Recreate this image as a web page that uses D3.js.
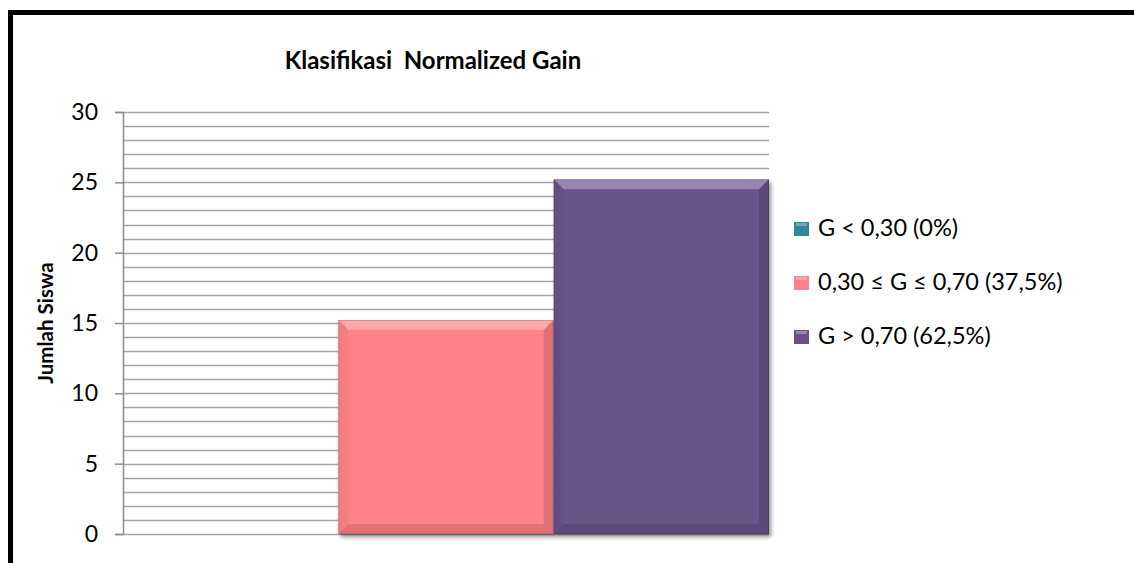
<!DOCTYPE html>
<html>
<head>
<meta charset="utf-8">
<script src="https://cdn.jsdelivr.net/npm/d3@7"></script>
<style>
  body { margin: 0; background: #fff; }
  svg { display: block; font-family: Lato, "Open Sans", sans-serif; }
</style>
</head>
<body>
<svg width="1134" height="563"></svg>
<script>
// data
var series = ["G < 0,30 (0%)", "0,30 \u2264 G \u2264 0,70 (37,5%)", "G > 0,70 (62,5%)"];
var values = [0, 15, 25];
var colors = ["#31859c", "#ff8289", "#6a5288"];
var yTicks = [0, 5, 10, 15, 20, 25, 30];

var svg = d3.select("svg");

// outer frame
svg.append("rect")
    .attr("x", 10.5).attr("y", 12.5)
    .attr("width", 1140).attr("height", 600)
    .attr("fill", "none")
    .attr("stroke", "#000")
    .attr("stroke-width", 5);

var plotLeft = 123, plotRight = 769, plotTop = 112, plotBottom = 534;

var y = d3.scaleLinear().domain([0, 30]).range([plotBottom, plotTop]);
var x = d3.scaleBand().domain(series).range([plotLeft, plotRight]).padding(0);

// grid lines (every unit)
svg.append("g")
  .selectAll("line")
  .data(d3.range(1, 31))
  .enter().append("line")
    .attr("x1", plotLeft).attr("x2", plotRight)
    .attr("y1", function(d) { return Math.round(y(d)) + 0.5; })
    .attr("y2", function(d) { return Math.round(y(d)) + 0.5; })
    .attr("stroke", "#a6a6a6")
    .attr("stroke-width", 1.5);

// x baseline
svg.append("line")
    .attr("x1", plotLeft).attr("x2", plotRight)
    .attr("y1", plotBottom + 0.5).attr("y2", plotBottom + 0.5)
    .attr("stroke", "#a6a6a6").attr("stroke-width", 1.5);

// y axis
var yAxis = svg.append("g")
    .attr("transform", "translate(" + plotLeft + ",0)")
    .call(d3.axisLeft(y).tickValues(yTicks).tickSize(8).tickPadding(17));
yAxis.select(".domain").attr("stroke", "#8c8c8c").attr("stroke-width", 1.5);
yAxis.selectAll(".tick line").attr("stroke", "#8c8c8c").attr("stroke-width", 1.5);
yAxis.selectAll(".tick text")
    .attr("font-size", 23)
    .attr("fill", "#000")
    .attr("font-family", "Lato, sans-serif");

// bars with bevel
var defs = svg.append("defs");
var f = defs.append("filter").attr("id", "shadow").attr("x", "-5%").attr("y", "-5%").attr("width", "115%").attr("height", "115%");
f.append("feGaussianBlur").attr("in", "SourceAlpha").attr("stdDeviation", 2);
f.append("feOffset").attr("dx", 2).attr("dy", 3).attr("result", "b");
f.append("feComponentTransfer").append("feFuncA").attr("type", "linear").attr("slope", 0.45);
var m = f.append("feMerge");
m.append("feMergeNode");
m.append("feMergeNode").attr("in", "SourceGraphic");

var bars = svg.append("g").selectAll("g")
  .data(series.map(function(s, i) { return { name: s, value: values[i], color: colors[i] }; }).filter(function(d) { return d.value > 0; }))
  .enter().append("g");

bars.append("rect")
    .attr("x", function(d) { return x(d.name); })
    .attr("y", function(d) { return y(d.value) - 3; })
    .attr("width", x.bandwidth())
    .attr("height", function(d) { return plotBottom - y(d.value) + 3; })
    .attr("fill", function(d) { return d.color; })
    .attr("filter", "url(#shadow)");

var bev = 10;
function edge(d, side) {
  var x0 = x(d.name), x1 = x0 + x.bandwidth(), y0 = y(d.value) - 3, y1 = plotBottom;
  if (side === "top") return [[x0, y0], [x1, y0], [x1 - bev, y0 + bev], [x0 + bev, y0 + bev]];
  if (side === "left") return [[x0, y0], [x0 + bev, y0 + bev], [x0 + bev, y1 - bev], [x0, y1]];
  if (side === "right") return [[x1, y0], [x1 - bev, y0 + bev], [x1 - bev, y1 - bev], [x1, y1]];
  return [[x0, y1], [x0 + bev, y1 - bev], [x1 - bev, y1 - bev], [x1, y1]];
}
var shades = { top: "rgba(255,255,255,0.3)", left: "rgba(0,0,0,0.04)", right: "rgba(0,0,0,0.12)", bottom: "rgba(0,0,0,0.12)" };
["top", "left", "right", "bottom"].forEach(function(side) {
  bars.append("polygon")
      .attr("points", function(d) { return edge(d, side).join(" "); })
      .attr("fill", shades[side]);
});
bars.append("rect")
    .attr("x", function(d) { return x(d.name) + 0.5; })
    .attr("y", function(d) { return y(d.value) - 2.5; })
    .attr("width", x.bandwidth() - 1)
    .attr("height", function(d) { return plotBottom - y(d.value) + 2; })
    .attr("fill", "none")
    .attr("stroke", "rgba(0,0,0,0.15)");

// title
svg.append("text")
    .attr("x", 433).attr("y", 69)
    .attr("text-anchor", "middle")
    .attr("font-size", 24)
    .attr("font-weight", "bold")
    .style("white-space", "pre")
    .text("Klasifikasi  Normalized Gain");

// y label
svg.append("text")
    .attr("transform", "translate(53,323) rotate(-90)")
    .attr("text-anchor", "middle")
    .attr("font-size", 20.5)
    .attr("font-weight", "bold")
    .text("Jumlah Siswa");

// legend
var legend = svg.append("g").selectAll("g")
  .data(series)
  .enter().append("g")
    .attr("transform", function(d, i) { return "translate(794," + (228 + i * 54) + ")"; });

legend.append("rect")
    .attr("x", 0).attr("y", -6)
    .attr("width", 15).attr("height", 14)
    .attr("fill", function(d, i) { return colors[i]; });
legend.append("rect")
    .attr("x", 2).attr("y", -5)
    .attr("width", 11).attr("height", 3)
    .attr("fill", "rgba(255,255,255,0.3)");

legend.append("text")
    .attr("x", 24).attr("y", 0)
    .attr("dy", "0.35em")
    .attr("font-size", 23.5)
    .text(function(d) { return d; });
</script>
</body>
</html>
